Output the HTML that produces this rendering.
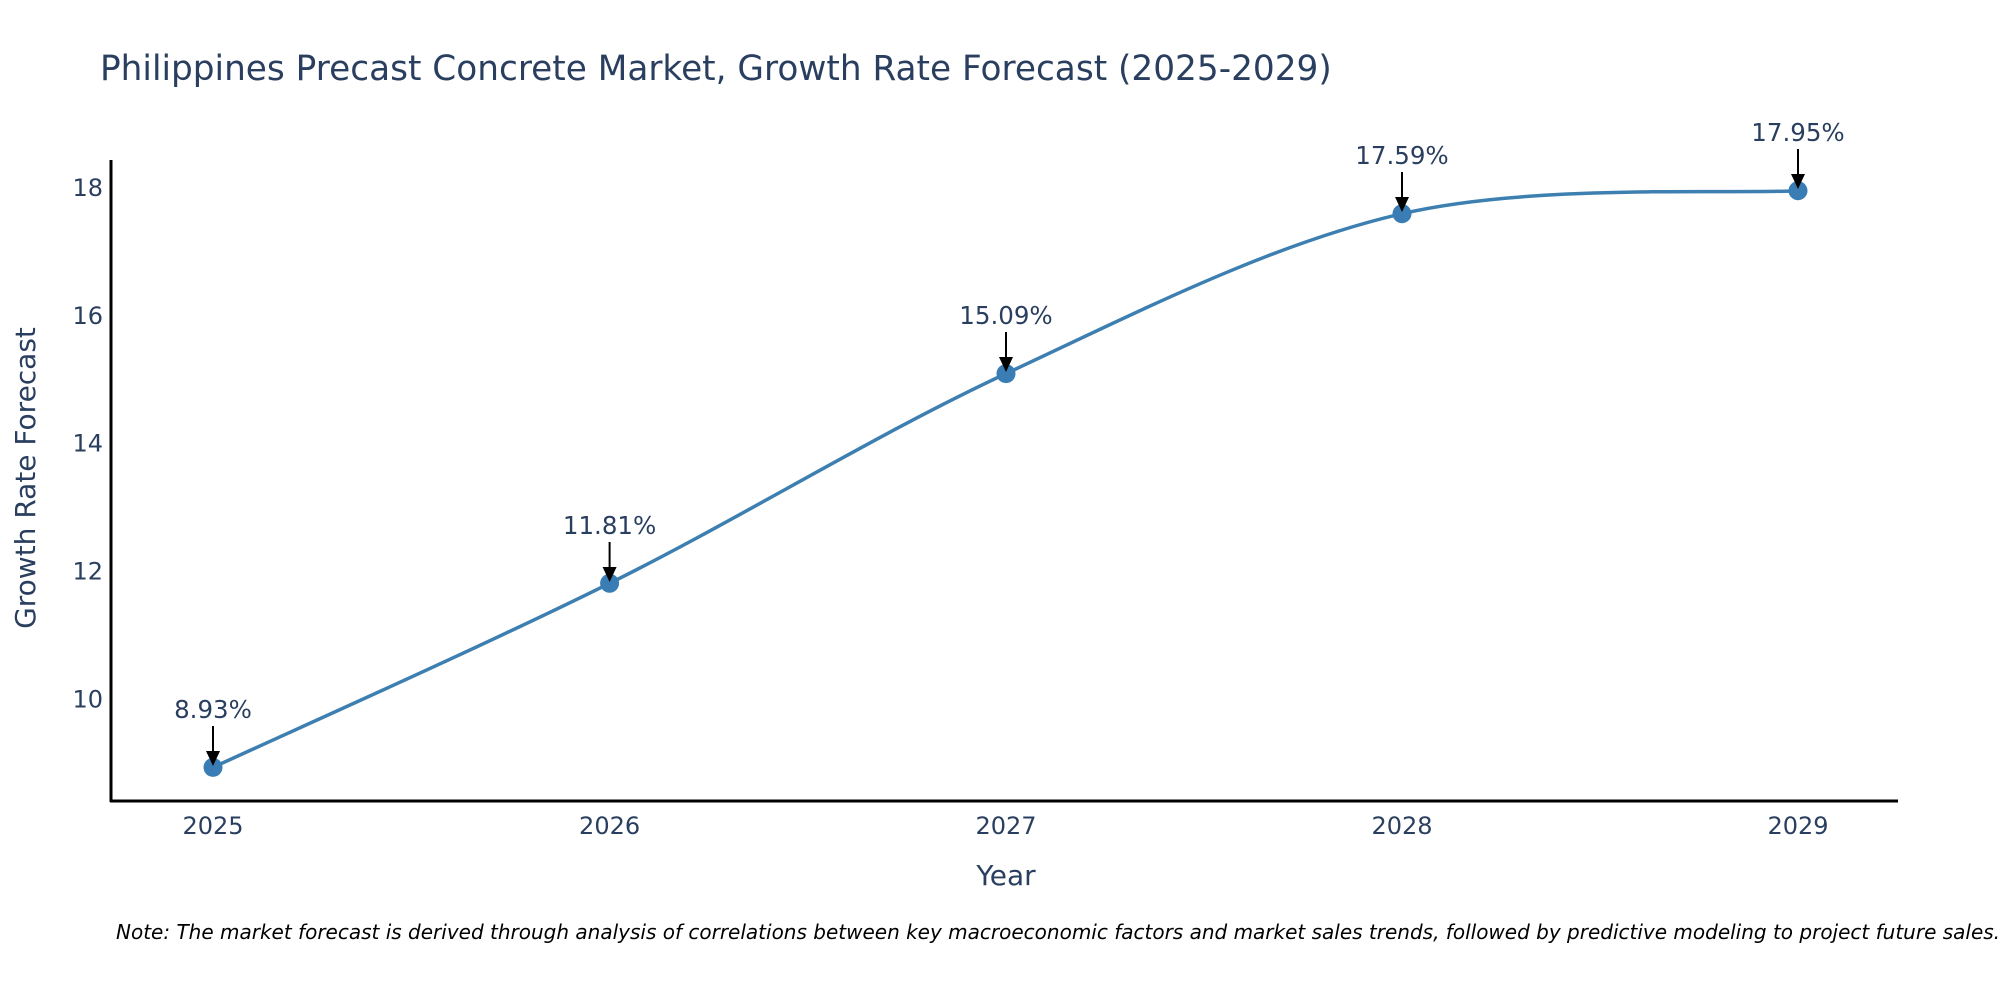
<!DOCTYPE html>
<html><head><meta charset="utf-8"><style>
html,body{margin:0;padding:0;background:#fff;}
svg{display:block;}
text{font-family:"DejaVu Sans","Liberation Sans",sans-serif;fill:#2a3f5f;}
</style></head><body>
<svg width="2000" height="1000" viewBox="0 0 2000 1000" xmlns="http://www.w3.org/2000/svg">
<text x="100" y="80" font-size="34.3">Philippines Precast Concrete Market, Growth Rate Forecast (2025-2029)</text>
<line x1="111" y1="160" x2="111" y2="802" stroke="#000" stroke-width="3"/>
<line x1="110" y1="801" x2="1898" y2="801" stroke="#000" stroke-width="3"/>
<g font-size="24" text-anchor="end">
<text x="103" y="196">18</text>
<text x="103" y="324">16</text>
<text x="103" y="451.5">14</text>
<text x="103" y="579.5">12</text>
<text x="103" y="707.5">10</text>
</g>
<g font-size="24" text-anchor="middle">
<text x="213" y="834">2025</text>
<text x="609.6" y="834">2026</text>
<text x="1006" y="834">2027</text>
<text x="1402" y="834">2028</text>
<text x="1798" y="834">2029</text>
</g>
<text x="1006" y="885" font-size="28" text-anchor="middle">Year</text>
<text transform="translate(35,478) rotate(-90)" font-size="28" text-anchor="middle">Growth Rate Forecast</text>
<path d="M213,767.4 C279.1,736.7 477.4,648.9 609.6,583.3 C741.8,517.7 873.9,435.2 1006,373.6 C1138.1,312 1270,244.2 1402,213.7 C1534,183.2 1732,194.5 1798,190.7" fill="none" stroke="#3d7fb0" stroke-width="3.5"/>
<g fill="#3a7db5">
<circle cx="213" cy="767.4" r="9.5"/><circle cx="609.6" cy="583.3" r="9.5"/><circle cx="1006" cy="373.6" r="9.5"/><circle cx="1402" cy="213.7" r="9.5"/><circle cx="1798" cy="190.7" r="9.5"/>
</g>
<g stroke="#000" stroke-width="2">
<line x1="213" y1="726" x2="213" y2="755"/>
<line x1="609.6" y1="542" x2="609.6" y2="571"/>
<line x1="1006" y1="332" x2="1006" y2="362"/>
<line x1="1402" y1="172" x2="1402" y2="202"/>
<line x1="1798" y1="149" x2="1798" y2="179"/>
</g>
<g fill="#000">
<polygon points="206,751 220,751 213,766"/>
<polygon points="602.6,567 616.6,567 609.6,582"/>
<polygon points="999,357 1013,357 1006,372"/>
<polygon points="1395,197 1409,197 1402,212"/>
<polygon points="1791,174 1805,174 1798,189"/>
</g>
<g font-size="24.5" text-anchor="middle">
<text x="213" y="718">8.93%</text>
<text x="609.6" y="534">11.81%</text>
<text x="1006" y="324">15.09%</text>
<text x="1402" y="164">17.59%</text>
<text x="1798" y="141">17.95%</text>
</g>
<text x="116" y="939" font-size="20" font-style="italic" style="fill:#000">Note: The market forecast is derived through analysis of correlations between key macroeconomic factors and market sales trends, followed by predictive modeling to project future sales.</text>
</svg>
</body></html>
